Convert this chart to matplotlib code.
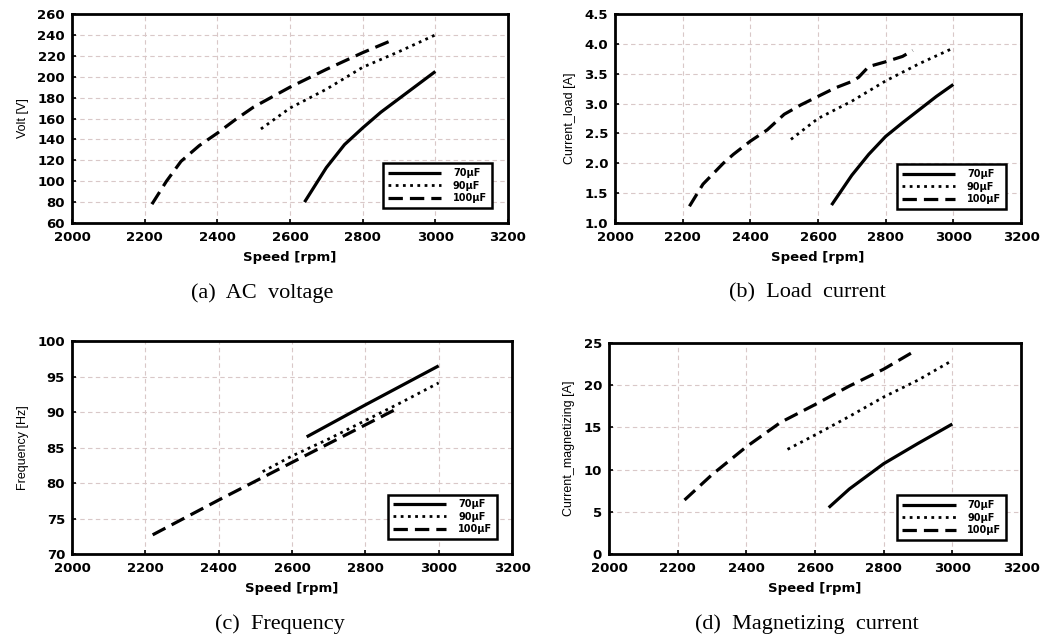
import matplotlib
matplotlib.use("Agg")
import matplotlib.pyplot as plt

# ---- data ----
labels = ["70\u03bcF", "90\u03bcF", "100\u03bcF"]

# (a) AC voltage
a70_x = [2640, 2700, 2750, 2800, 2850, 2900, 2950, 3000]
a70_y = [80, 113, 135, 151, 166, 179, 192, 205]
a90_x = [2520, 2600, 2700, 2800, 2900, 3000]
a90_y = [150, 170, 188, 209, 224, 240]
a100_x = [2220, 2260, 2300, 2350, 2400, 2450, 2500, 2600, 2700, 2800, 2875]
a100_y = [78, 100, 119, 134, 146, 159, 171, 190, 207, 223, 234]

# (b) Load current
b70_x = [2640, 2700, 2750, 2800, 2850, 2900, 2950, 3000]
b70_y = [1.30, 1.80, 2.15, 2.45, 2.68, 2.90, 3.12, 3.32]
b90_x = [2520, 2600, 2700, 2800, 2900, 3000]
b90_y = [2.40, 2.75, 3.04, 3.38, 3.67, 3.93]
b100_x = [2220, 2260, 2320, 2350, 2400, 2450, 2500, 2550, 2600, 2650, 2700, 2720, 2750, 2800, 2850, 2880]
b100_y = [1.28, 1.65, 2.00, 2.15, 2.37, 2.56, 2.82, 2.98, 3.12, 3.26, 3.37, 3.44, 3.62, 3.70, 3.79, 3.89]

# (c) Frequency
c70_x = [2640, 2800, 3000]
c70_y = [86.5, 91.0, 96.5]
c90_x = [2520, 2600, 2700, 2800, 2900, 3000]
c90_y = [81.6, 83.8, 86.2, 88.8, 91.4, 94.1]
c100_x = [2220, 2400, 2600, 2880]
c100_y = [72.7, 77.6, 82.9, 90.3]

# (d) Magnetizing current
d70_x = [2640, 2700, 2800, 2900, 3000]
d70_y = [5.5, 7.7, 10.7, 13.1, 15.4]
d90_x = [2520, 2600, 2700, 2800, 2900, 2990]
d90_y = [12.4, 14.1, 16.3, 18.6, 20.6, 22.7]
d100_x = [2220, 2300, 2400, 2500, 2600, 2700, 2800, 2880]
d100_y = [6.4, 9.4, 12.7, 15.6, 17.7, 19.9, 21.9, 23.8]

xticks = [2000, 2200, 2400, 2600, 2800, 3000, 3200]

W, H = 1051, 638
fig = plt.figure(figsize=(W / 100, H / 100), dpi=100)

styles = [dict(linestyle="-", lw=2.3),
          dict(linestyle=(0, (1.0, 1.6)), lw=2.0),
          dict(linestyle=(0, (4.5, 2.2)), lw=2.3)]

def px_axes(l, t, r, b):
    return fig.add_axes([l / W, 1 - b / H, (r - l) / W, (b - t) / H])

panels = [
    dict(box=(72, 14, 508, 223), data=[(a70_x, a70_y), (a90_x, a90_y), (a100_x, a100_y)],
         ylim=(60, 260), yticks=list(range(60, 261, 20)), ylabel="Volt [V]",
         yfmt="{:.0f}", caption="(a)  AC  voltage", cap=(262, 293), leg=(0.963, 0.072)),
    dict(box=(615, 14, 1021, 223), data=[(b70_x, b70_y), (b90_x, b90_y), (b100_x, b100_y)],
         ylim=(1.0, 4.5), yticks=[1.0, 1.5, 2.0, 2.5, 3.0, 3.5, 4.0, 4.5], ylabel="Current_load [A]",
         yfmt="{:.1f}", caption="(b)  Load  current", cap=(807, 293), leg=(0.963, 0.067)),
    dict(box=(72, 341, 512, 554), data=[(c70_x, c70_y), (c90_x, c90_y), (c100_x, c100_y)],
         ylim=(70, 100), yticks=[70, 75, 80, 85, 90, 95, 100], ylabel="Frequency [Hz]",
         yfmt="{:.0f}", caption="(c)  Frequency", cap=(280, 624), leg=(0.966, 0.07)),
    dict(box=(609, 343, 1021, 554), data=[(d70_x, d70_y), (d90_x, d90_y), (d100_x, d100_y)],
         ylim=(0, 25), yticks=[0, 5, 10, 15, 20, 25], ylabel="Current_magnetizing [A]",
         yfmt="{:.0f}", caption="(d)  Magnetizing  current", cap=(807, 624), leg=(0.964, 0.066)),
]

for p in panels:
    ax = px_axes(*p["box"])
    for (x, y), st, lab in zip(p["data"], styles, labels):
        ax.plot(x, y, color="black", label=lab, solid_capstyle="butt", dash_capstyle="butt", **st)
    ax.set_xlim(2000, 3200)
    ax.set_ylim(*p["ylim"])
    ax.set_xticks(xticks)
    ax.set_yticks(p["yticks"])
    ax.set_yticklabels([p["yfmt"].format(v) for v in p["yticks"]])
    ax.grid(True, color="#d9c8c8", linestyle=(0, (4, 3)), lw=0.8)
    ax.set_axisbelow(True)
    for s in ax.spines.values():
        s.set_linewidth(2.0)
    ax.tick_params(direction="in", length=3, width=1.2, labelsize=9.5)
    ax.tick_params(axis="x", pad=6)
    ax.tick_params(axis="y", pad=5)
    for t in ax.get_xticklabels() + ax.get_yticklabels():
        t.set_fontfamily("DejaVu Sans")
        t.set_fontweight("bold")
    ax.set_xlabel("Speed [rpm]", fontsize=9.5, fontweight="bold", family="DejaVu Sans", labelpad=5)
    ax.set_ylabel(p["ylabel"], fontsize=9, family="Liberation Sans", labelpad=6)
    leg = ax.legend(loc="lower right", bbox_to_anchor=p["leg"], fancybox=False, framealpha=1,
                    edgecolor="black", handlelength=5.5,
                    prop=dict(family="DejaVu Sans", weight="bold", size=7),
                    borderpad=0.5, labelspacing=0.25, handletextpad=1.2, borderaxespad=0)
    leg.get_frame().set_linewidth(1.8)
    fig.text(p["cap"][0] / W, 1 - p["cap"][1] / H, p["caption"], ha="center", va="center",
             fontsize=16, family="Liberation Serif")

fig.savefig("out.png", dpi=100)
